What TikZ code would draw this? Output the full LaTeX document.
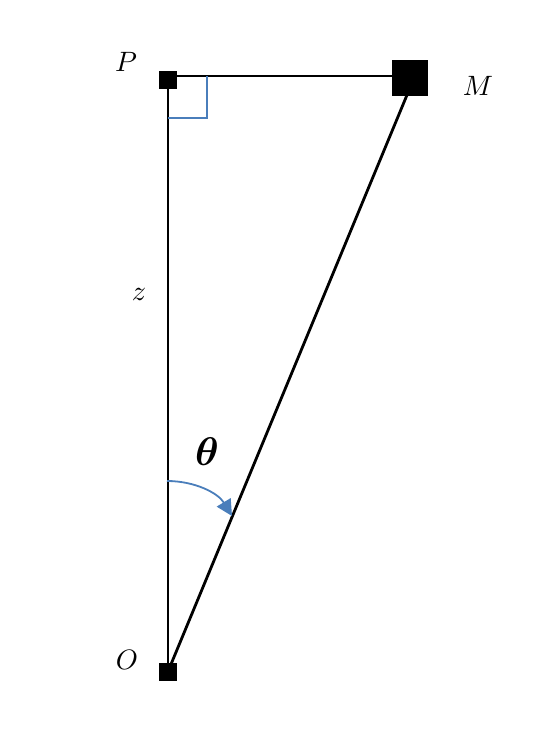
\documentclass[tikz,border=0pt]{standalone}
\usepackage{bm}
\usetikzlibrary{arrows.meta}
\definecolor{officeblue}{HTML}{4A7EBB}
\newcommand{\biglbl}[2]{\scalebox{#1}{$#2$}}
\begin{document}
\begin{tikzpicture}[x=1pt,y=-1pt,
  blk/.style={line width=2.8pt,black},
  dot/.style={fill=black,draw=none,inner sep=0pt,minimum size=#1},
  lbl/.style={inner sep=0pt},
  bl/.style={officeblue,line width=1.8pt}]
\useasboundingbox (0,0) rectangle (540,731);
\node[dot=18pt] (P) at (168,79.5) {};
\node[dot=18pt] (O) at (168,671.5) {};
\node[dot=36pt] (M) at (410,78) {};
\coordinate (Ptop) at (168,76);
\coordinate (Mc) at (407,95);
\coordinate (Oc) at (168,671.5);
\draw[blk] (P.center) -- (O.center);
\draw[blk] (Ptop) -- (M.west|-Ptop);
\draw[blk] (Oc) -- (Mc);
\node[dot=18pt] at (O) {};
\node[dot=18pt] at (P) {};
\coordinate (ra1) at (207,76);
\coordinate (ra2) at (207,118);
\coordinate (ra3) at (168,118);
\draw[bl] (ra1) -- (ra2) -- (ra3);
\node[lbl] (lP) at (126,62) {\biglbl{2.8}{P}};
\node[lbl] (lM) at (478,86) {\biglbl{2.8}{M}};
\node[lbl] (lO) at (127,660) {\biglbl{2.8}{O}};
\node[lbl] (lz) at (139,294) {\biglbl{2.8}{z}};
\node[lbl] (lt) at (207,452) {\biglbl{4}{\bm{\theta}}};
\coordinate (a1) at (167,481);
\coordinate (a2) at (232,516);
\draw[bl,-{Triangle[length=16pt,width=16pt]}] (a1) .. controls (195,481) and (218,493) .. (a2);
\end{tikzpicture}
\end{document}
